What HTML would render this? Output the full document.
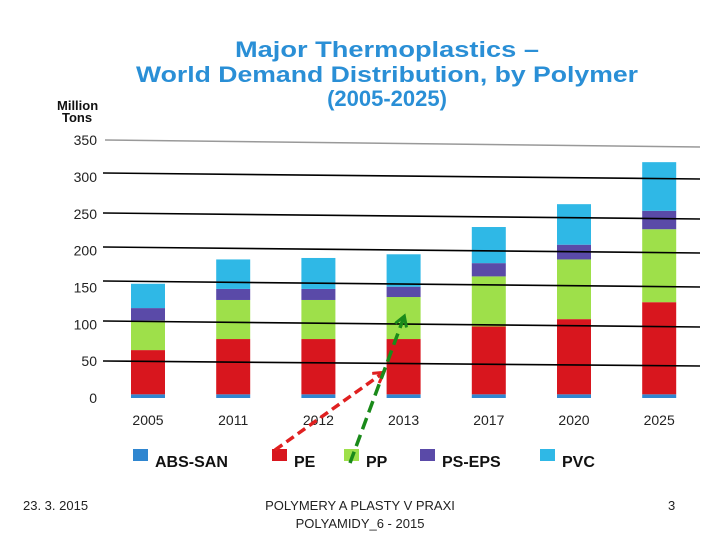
<!DOCTYPE html>
<html><head><meta charset="utf-8"><style>
html,body{margin:0;padding:0;background:#fff;}
svg{display:block;}
text{font-family:"Liberation Sans",sans-serif;}
</style></head><body>
<svg id="c" width="720" height="540" viewBox="0 0 720 540">
<g fill="#2a8fd6" font-weight="bold" text-anchor="middle" font-size="22">
<text x="387" y="57" textLength="304" lengthAdjust="spacingAndGlyphs">Major Thermoplastics –</text>
<text x="387" y="82" textLength="502" lengthAdjust="spacingAndGlyphs">World Demand Distribution, by Polymer</text>
<text x="387" y="106">(2005-2025)</text>
</g>
<g font-weight="bold" font-size="13" fill="#111">
<text x="57" y="110">Million</text><text x="62" y="122">Tons</text>
</g>
<line x1="105" y1="140" x2="700" y2="147" stroke="#999" stroke-width="1.5"/>
<g id="yt"></g>
<g id="bars"></g>
<g id="xt"></g>
<g id="lines"></g>
<g id="legend"></g>
<defs>
<marker id="ar" markerUnits="userSpaceOnUse" markerWidth="14" markerHeight="14" refX="10" refY="7" orient="auto"><path d="M1,1 L11,7 L1,13" fill="none" stroke="#e02020" stroke-width="3"/></marker>
<marker id="ag" markerUnits="userSpaceOnUse" markerWidth="14" markerHeight="14" refX="10" refY="7" orient="auto"><path d="M1,1 L11,7 L1,13" fill="none" stroke="#1a8a1a" stroke-width="3"/></marker>
</defs>
<line x1="275" y1="450" x2="383" y2="373" stroke="#e02020" stroke-width="3.5" stroke-dasharray="9,5" marker-end="url(#ar)"/>
<line x1="350" y1="463" x2="404" y2="317" stroke="#1a8a1a" stroke-width="3.5" stroke-dasharray="12,6" marker-end="url(#ag)"/>
<g font-size="13" fill="#222">
<text x="23" y="510">23. 3. 2015</text>
<text x="360" y="510" text-anchor="middle">POLYMERY A PLASTY V PRAXI</text>
<text x="360" y="528" text-anchor="middle">POLYAMIDY_6 - 2015</text>
<text x="668" y="510">3</text>
</g>
</svg>
<script>
const years=["2005","2011","2012","2013","2017","2020","2025"];
const absSan=[5,5,5,5,5,5,5];
const pe=[60,75,75,75,92,102,125];
const pp=[40,53,53,57,68,81,99];
const psEps=[17,15,15,14,18,20,25];
const pvc=[33,40,42,44,49,55,66];
const seriesNames=["ABS-SAN","PE","PP","PS-EPS","PVC"];
const yTicks=[0,50,100,150,200,250,300,350];
const NS="http://www.w3.org/2000/svg";
const colors=["#2f86d0","#d8161e","#9ee04a","#5a4aa8","#2fb8e6"];
const series=[absSan,pe,pp,psEps,pvc];
const y=v=>398-v*0.737;
const x=i=>148+i*85.2;
function mk(tag,attrs,parent){const e=document.createElementNS(NS,tag);for(const k in attrs)e.setAttribute(k,attrs[k]);parent.appendChild(e);return e;}
const yt=document.getElementById('yt');
yTicks.forEach(t=>{const e=mk('text',{x:97,y:y(t)+5,'text-anchor':'end','font-size':'14',fill:'#222'},yt);e.textContent=t;

});
const bars=document.getElementById('bars');
years.forEach((yr,i)=>{let acc=0;series.forEach((s,j)=>{const r=mk('rect',{x:x(i)-17,y:y(acc+s[i]),width:34,height:s[i]*0.737,fill:colors[j]},bars);


acc+=s[i];});
const t=mk('text',{x:x(i),y:425,'text-anchor':'middle','font-size':'14',fill:'#222'},document.getElementById('xt'));t.textContent=yr;

});
const lg=document.getElementById('lines');
[[173,179],[213,219],[247,253],[281,287],[321,327],[361,366]].forEach((p,k)=>{const l=mk('line',{x1:103,y1:p[0],x2:700,y2:p[1],stroke:'#000','stroke-width':1.6},lg);

});
const leg=document.getElementById('legend');
const lx=[133,272,344,420,540];
seriesNames.forEach((n,j)=>{mk('rect',{x:lx[j],y:449,width:15,height:12,fill:colors[j]},leg);
const t=mk('text',{x:lx[j]+22,y:467,'font-size':'16','font-weight':'bold',fill:'#111'},leg);t.textContent=n;

});
</script>
</body></html>
